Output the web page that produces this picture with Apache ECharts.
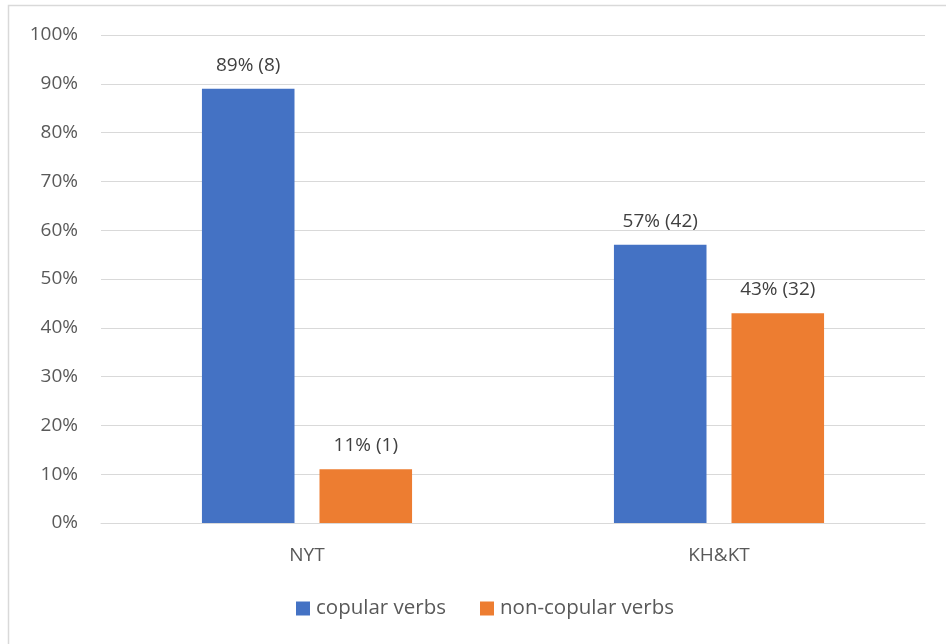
<!DOCTYPE html>
<html>
<head>
<meta charset="utf-8">
<script src="https://cdn.jsdelivr.net/npm/echarts@6/dist/echarts.min.js"></script>
<style>
  html, body { margin: 0; padding: 0; background: #fff; }
  #chart { width: 946px; height: 644px; }
</style>
</head>
<body>
<div id="chart"></div>
<script>
// Share of verb types per corpus (percent) and raw counts
const categories = ['NYT', 'KH&KT'];
const copularPct = [89, 57];
const copularCount = [8, 42];
const nonCopularPct = [11, 43];
const nonCopularCount = [1, 32];
const seriesNames = ['copular verbs', 'non-copular verbs'];
const yTicks = [0, 10, 20, 30, 40, 50, 60, 70, 80, 90, 100];

const FONT = '"Open Sans", "Liberation Sans", sans-serif';
const FS = 19;

function labelFor(counts) {
  return p => p.value + '% (' + counts[p.dataIndex] + ')';
}

const chart = echarts.init(document.getElementById('chart'), null, { renderer: 'canvas' });
chart.setOption({
  animation: false,
  backgroundColor: '#fff',
  textStyle: { fontFamily: FONT },
  graphic: [{
    type: 'rect',
    shape: { x: 8.5, y: 5.5, width: 1000, height: 1000 },
    style: { fill: 'none', stroke: '#d9d9d9', lineWidth: 1.5 },
    silent: true
  }],
  grid: { left: 101, right: 21, top: 35, bottom: 121, containLabel: false },
  legend: {
    bottom: 20,
    left: 291,
    itemWidth: 14,
    itemHeight: 14,
    itemGap: 34,
    icon: 'rect',
    textStyle: { color: '#595959', fontSize: 20.5, fontFamily: FONT, padding: [0, 0, 0, 1] },
    data: seriesNames
  },
  xAxis: {
    type: 'category',
    data: categories,
    axisLine: { lineStyle: { color: '#d9d9d9', width: 1 } },
    axisTick: { show: false },
    axisLabel: { color: '#595959', fontSize: FS, margin: 23, fontFamily: FONT }
  },
  yAxis: {
    type: 'value',
    min: yTicks[0],
    max: yTicks[yTicks.length - 1],
    interval: 10,
    axisLine: { show: false },
    axisTick: { show: false },
    splitLine: { lineStyle: { color: '#d9d9d9', width: 1 } },
    axisLabel: {
      color: '#595959', fontSize: FS, margin: 23, fontFamily: FONT,
      formatter: v => v + '%'
    }
  },
  series: [
    {
      name: seriesNames[0],
      type: 'bar',
      data: copularPct,
      barGap: '27%',
      barCategoryGap: '49%',
      itemStyle: { color: '#4472c4' },
      label: {
        show: true, position: 'top', distance: 14,
        color: '#404040', fontSize: FS, fontFamily: FONT,
        formatter: labelFor(copularCount)
      }
    },
    {
      name: seriesNames[1],
      type: 'bar',
      data: nonCopularPct,
      itemStyle: { color: '#ed7d31' },
      label: {
        show: true, position: 'top', distance: 14,
        color: '#404040', fontSize: FS, fontFamily: FONT,
        formatter: labelFor(nonCopularCount)
      }
    }
  ]
});
</script>
</body>
</html>
